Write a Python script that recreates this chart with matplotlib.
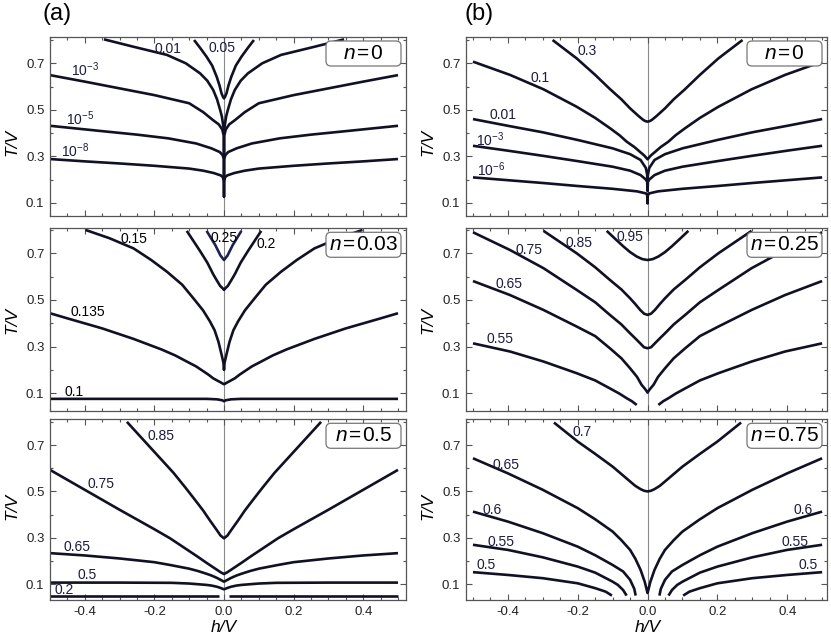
import numpy as np
import matplotlib
matplotlib.use("Agg")
import matplotlib.pyplot as plt
from matplotlib.patches import FancyBboxPatch
from matplotlib.ticker import MultipleLocator, FixedLocator

plt.rcParams["font.family"] = ["Liberation Sans", "DejaVu Sans"]
plt.rcParams["mathtext.fontset"] = "custom"
plt.rcParams["mathtext.rm"] = "Liberation Sans"
plt.rcParams["mathtext.it"] = "Liberation Sans:italic"
plt.rcParams["axes.unicode_minus"] = False

# Contours T/V(h/V). Only the right half (h >= 0) is
# stored, the curves are symmetric in h and get mirrored when drawn.

# --- (a) n = 0 ---
a1_levels = ["$10^{-8}$", "$10^{-5}$", "$10^{-3}$", "0.01", "0.05"]
a1_h = [
    [0, 0.0005, 0.003, 0.01, 0.03, 0.06, 0.1, 0.2, 0.3, 0.4, 0.5],
    [0, 0.001, 0.004, 0.012, 0.036, 0.08, 0.16, 0.25, 0.35, 0.5],
    [0, 0.001, 0.005, 0.015, 0.032, 0.06, 0.1, 0.2, 0.3, 0.4, 0.5],
    [0, 0.002, 0.006, 0.011, 0.02, 0.031, 0.048, 0.069, 0.11, 0.164, 0.26, 0.345],
    [0, 0.003, 0.007, 0.013, 0.021, 0.034, 0.05, 0.068, 0.086],
]
a1_t = [
    [0.125, 0.19, 0.21, 0.218, 0.228, 0.238, 0.247, 0.259, 0.269, 0.278, 0.288],
    [0.21, 0.29, 0.305, 0.318, 0.334, 0.355, 0.377, 0.393, 0.408, 0.431],
    [0.305, 0.39, 0.415, 0.437, 0.456, 0.49, 0.528, 0.563, 0.592, 0.621, 0.649],
    [0.40, 0.43, 0.47, 0.499, 0.545, 0.585, 0.625, 0.657, 0.70, 0.736, 0.771, 0.803],
    [0.549, 0.556, 0.57, 0.605, 0.642, 0.69, 0.728, 0.765, 0.80],
]

# --- (b) n = 0 ---
b1_levels = ["$10^{-6}$", "$10^{-3}$", "0.01", "0.1", "0.3"]
b1_h = [
    [0, 0.0005, 0.004, 0.03, 0.1, 0.2, 0.3, 0.4, 0.5],
    [0, 0.001, 0.005, 0.02, 0.05, 0.1, 0.2, 0.3, 0.4, 0.5],
    [0, 0.001, 0.005, 0.02, 0.05, 0.1, 0.2, 0.3, 0.4, 0.5],
    [0, 0.004, 0.01, 0.021, 0.038, 0.06, 0.08, 0.107, 0.15, 0.203, 0.298, 0.394, 0.5],
    [0, 0.006, 0.012, 0.025, 0.05, 0.075, 0.107, 0.15, 0.203, 0.272],
]
b1_t = [
    [0.097, 0.13, 0.14, 0.149, 0.16, 0.172, 0.185, 0.197, 0.209],
    [0.15, 0.19, 0.2, 0.219, 0.238, 0.255, 0.279, 0.302, 0.324, 0.345],
    [0.19, 0.22, 0.25, 0.284, 0.309, 0.334, 0.37, 0.403, 0.431, 0.46],
    [0.287, 0.294, 0.304, 0.318, 0.34, 0.363, 0.39, 0.42, 0.465, 0.513, 0.588, 0.65, 0.707],
    [0.449, 0.451, 0.456, 0.472, 0.506, 0.545, 0.588, 0.65, 0.721, 0.80],
]

# --- (a) n = 0.03 ---
a2_levels = ["0.1", "0.135", "0.15", "0.2", "0.25"]
a2_h = [
    [0, 0.005, 0.02, 0.05, 0.5],
    [0, 0.003, 0.01, 0.02, 0.031, 0.045, 0.06, 0.08, 0.107, 0.14, 0.18, 0.26, 0.35, 0.45, 0.5],
    [0, 0.0015, 0.0067, 0.016, 0.027, 0.04, 0.06, 0.088, 0.12, 0.164, 0.21, 0.26, 0.33, 0.398],
    [0, 0.004, 0.011, 0.02, 0.031, 0.048, 0.069, 0.088, 0.107],
    [0, 0.01, 0.025, 0.05],
]
a2_t = [
    [0.066, 0.07, 0.074, 0.076, 0.076],
    [0.139, 0.141, 0.147, 0.155, 0.164, 0.18, 0.195, 0.215, 0.236, 0.262, 0.288, 0.333, 0.378, 0.421, 0.443],
    [0.20, 0.23, 0.264, 0.321, 0.37, 0.407, 0.455, 0.507, 0.565, 0.621, 0.672, 0.721, 0.765, 0.80],
    [0.543, 0.55, 0.56, 0.582, 0.61, 0.66, 0.71, 0.753, 0.796],
    [0.671, 0.69, 0.735, 0.796],
]

# --- (b) n = 0.25 ---
b2_levels = ["0.55", "0.65", "0.75", "0.85", "0.95"]
b2_h = [
    [0.031, 0.045, 0.06, 0.08, 0.108, 0.15, 0.203, 0.298, 0.394, 0.5],
    [0, 0.003, 0.008, 0.017, 0.03, 0.05, 0.075, 0.108, 0.15, 0.203, 0.298, 0.394, 0.5],
    [0, 0.01, 0.021, 0.035, 0.05, 0.075, 0.108, 0.15, 0.203, 0.298, 0.394, 0.5],
    [0, 0.01, 0.021, 0.035, 0.05, 0.075, 0.108, 0.15, 0.203, 0.298],
    [0, 0.015, 0.031, 0.05, 0.069, 0.09, 0.117],
]
b2_t = [
    [0.05, 0.066, 0.079, 0.098, 0.121, 0.155, 0.186, 0.236, 0.279, 0.314],
    [0.103, 0.11, 0.12, 0.136, 0.17, 0.207, 0.25, 0.293, 0.345, 0.386, 0.457, 0.521, 0.581],
    [0.293, 0.297, 0.314, 0.335, 0.357, 0.395, 0.436, 0.49, 0.543, 0.636, 0.714, 0.79],
    [0.436, 0.441, 0.457, 0.482, 0.507, 0.545, 0.586, 0.64, 0.70, 0.796],
    [0.671, 0.675, 0.686, 0.705, 0.729, 0.758, 0.796],
]

# --- (a) n = 0.5 ---
a3_levels = ["0.2", "0.5", "0.65", "0.75", "0.85"]
a3_h = [
    [0.015, 0.5],
    [0, 0.01, 0.02, 0.035, 0.05, 0.075, 0.1, 0.15, 0.3, 0.5],
    [0, 0.01, 0.02, 0.035, 0.05, 0.075, 0.1, 0.155, 0.2, 0.3, 0.4, 0.5],
    [0, 0.01, 0.02, 0.035, 0.05, 0.075, 0.1, 0.155, 0.2, 0.3, 0.4, 0.5],
    [0, 0.01, 0.021, 0.04, 0.06, 0.083, 0.11, 0.145, 0.212, 0.279],
]
a3_t = [
    [0.049, 0.049],
    [0.078, 0.084, 0.089, 0.094, 0.097, 0.1, 0.103, 0.106, 0.107, 0.107],
    [0.111, 0.119, 0.127, 0.137, 0.145, 0.157, 0.167, 0.183, 0.195, 0.211, 0.224, 0.234],
    [0.144, 0.152, 0.162, 0.177, 0.192, 0.218, 0.243, 0.298, 0.337, 0.421, 0.507, 0.593],
    [0.298, 0.31, 0.334, 0.374, 0.418, 0.463, 0.515, 0.58, 0.69, 0.80],
]

# --- (b) n = 0.75 ---
b3_levels = ["0.5", "0.55", "0.6", "0.65", "0.7"]
b3_h = [
    [0.102, 0.12, 0.15, 0.2, 0.3, 0.4, 0.5],
    [0.06, 0.07, 0.085, 0.1, 0.15, 0.2, 0.3, 0.4, 0.5],
    [0.034, 0.038, 0.05, 0.07, 0.1, 0.15, 0.2, 0.3, 0.4, 0.5],
    [0, 0.003, 0.008, 0.02, 0.035, 0.05, 0.075, 0.1, 0.15, 0.2, 0.3, 0.4, 0.5],
    [0, 0.01, 0.02, 0.035, 0.05, 0.075, 0.1, 0.15, 0.2, 0.268],
]
b3_t = [
    [0.051, 0.068, 0.083, 0.104, 0.126, 0.14, 0.152],
    [0.051, 0.075, 0.097, 0.111, 0.15, 0.176, 0.216, 0.248, 0.27],
    [0.051, 0.08, 0.119, 0.155, 0.183, 0.225, 0.262, 0.32, 0.37, 0.413],
    [0.062, 0.08, 0.11, 0.162, 0.21, 0.248, 0.29, 0.327, 0.38, 0.428, 0.507, 0.578, 0.643],
    [0.50, 0.503, 0.51, 0.524, 0.543, 0.575, 0.607, 0.662, 0.715, 0.797],
]

fillings = ["0", "0", "0.03", "0.25", "0.5", "0.75"]

# where each contour label sits (level index, h, T)
a1_labels = [(0, -0.429, 0.324), (1, -0.412, 0.462), (2, -0.399, 0.674),
             (3, -0.16, 0.76), (4, -0.007, 0.767)]
b1_labels = [(0, -0.449, 0.243), (1, -0.451, 0.373), (2, -0.413, 0.477),
             (3, -0.307, 0.635), (4, -0.174, 0.751)]
a2_labels = [(0, -0.432, 0.104), (1, -0.392, 0.45), (2, -0.26, 0.761),
             (3, 0.122, 0.739), (4, 0.0, 0.767)]
b2_labels = [(0, -0.423, 0.331), (1, -0.396, 0.569), (2, -0.34, 0.713),
             (3, -0.195, 0.746), (4, -0.05, 0.771)]
a3_labels = [(0, -0.459, 0.073), (1, -0.393, 0.14), (2, -0.422, 0.261),
             (3, -0.354, 0.531), (4, -0.182, 0.741)]
b3_labels = [(0, -0.461, 0.185), (1, -0.42, 0.284), (2, -0.444, 0.42),
             (3, -0.404, 0.616), (4, -0.188, 0.758),
             (0, 0.459, 0.185), (1, 0.423, 0.284), (2, 0.446, 0.42)]

panels = [
    (0, 0, a1_levels, a1_h, a1_t, a1_labels),
    (0, 1, b1_levels, b1_h, b1_t, b1_labels),
    (1, 0, a2_levels, a2_h, a2_t, a2_labels),
    (1, 1, b2_levels, b2_h, b2_t, b2_labels),
    (2, 0, a3_levels, a3_h, a3_t, a3_labels),
    (2, 1, b3_levels, b3_h, b3_t, b3_labels),
]

W, H = 831, 638
# pixel frame of each column / row and its data limits
cols = [(50, 406, (-0.5, 0.523)), (466, 827, (-0.52, 0.514))]
rows = [(37, 216, (0.043, 0.813)), (228.3, 411, (0.024, 0.807)),
        (419.3, 600, (0.032, 0.811))]
ylabel_y = [142, 320, 506]

LINE = "#111125"
TEXT = "#1c1c40"

fig = plt.figure(figsize=(W / 100, H / 100), dpi=100)


def halves(h, t):
    h = np.asarray(h, float)
    t = np.asarray(t, float)
    if h[0] == 0:
        return [(np.concatenate([-h[:0:-1], h]), np.concatenate([t[:0:-1], t]))]
    return [(h, t), (-h, t)]


for k, (r, c, levels, hs, ts, labels) in enumerate(panels):
    x0, x1, xlim = cols[c]
    y0, y1, ylim = rows[r]
    ax = fig.add_axes([x0 / W, 1 - y1 / H, (x1 - x0) / W, (y1 - y0) / H])
    ax.set_xlim(*xlim)
    ax.set_ylim(*ylim)
    ax.axvline(0, color="#8a8a8a", lw=0.8, zorder=1)

    for i, lev in enumerate(levels):
        col = LINE
        if k == 2 and lev == "0.25":
            col = "#202050"
        for hh, tt in halves(hs[i], ts[i]):
            ax.plot(hh, tt, color=col, lw=1.9, zorder=2,
                    solid_joinstyle="round", solid_capstyle="butt")

    tcol = "black" if k == 2 else TEXT
    for i, lh, lt in labels:
        ax.text(lh, lt, levels[i], ha="center", va="center", fontsize=10,
                color=tcol, zorder=4)

    ax.xaxis.set_major_locator(MultipleLocator(0.2))
    ax.xaxis.set_minor_locator(MultipleLocator(0.05))
    ax.yaxis.set_major_locator(FixedLocator([0.1, 0.3, 0.5, 0.7]))
    ax.yaxis.set_minor_locator(FixedLocator([0.2, 0.4, 0.6, 0.8]))
    ax.tick_params(which="both", direction="in", top=True, right=True,
                   color="#555555", width=0.8, labelsize=9.5, pad=4,
                   labelcolor="#222222")
    ax.tick_params(which="major", length=4)
    ax.tick_params(which="minor", length=2.5)
    if r < 2:
        ax.tick_params(labelbottom=False)
    for s in ax.spines.values():
        s.set_color("#555555")
        s.set_linewidth(0.9)

    # T/V axis label
    fig.text((x0 - 38) / W, 1 - ylabel_y[r] / H, "T/V", rotation=90,
             ha="center", va="center", fontsize=12.5, style="italic")

    # filling box in the top right corner
    bx0, bx1 = x1 - 80, x1 - 5
    by0, by1 = y0 + 4, y0 + 29
    box = FancyBboxPatch((bx0 / 100, (H - by1) / 100), (bx1 - bx0) / 100,
                         (by1 - by0) / 100,
                         boxstyle="round,pad=0,rounding_size=0.05",
                         transform=fig.dpi_scale_trans, fc="white",
                         ec="#777777", lw=0.9, zorder=5)
    fig.add_artist(box)
    fig.text((bx0 + bx1) / 200, (H - (by0 + by1) / 2) / 100,
             "$n$\u200a=\u200a" + fillings[k], transform=fig.dpi_scale_trans,
             ha="center", va="center", fontsize=15, zorder=6)

for c in range(2):
    x0, x1, xlim = cols[c]
    zero_px = x0 + (0 - xlim[0]) / (xlim[1] - xlim[0]) * (x1 - x0)
    fig.text(zero_px / W, 1 - 628 / H, "h/V", ha="center", va="center",
             fontsize=12.5, style="italic")

fig.text(42 / W, 1 - 3 / H, "(a)", ha="left", va="top", fontsize=17)
fig.text(465 / W, 1 - 3 / H, "(b)", ha="left", va="top", fontsize=17)

fig.savefig("out.png", dpi=100)
